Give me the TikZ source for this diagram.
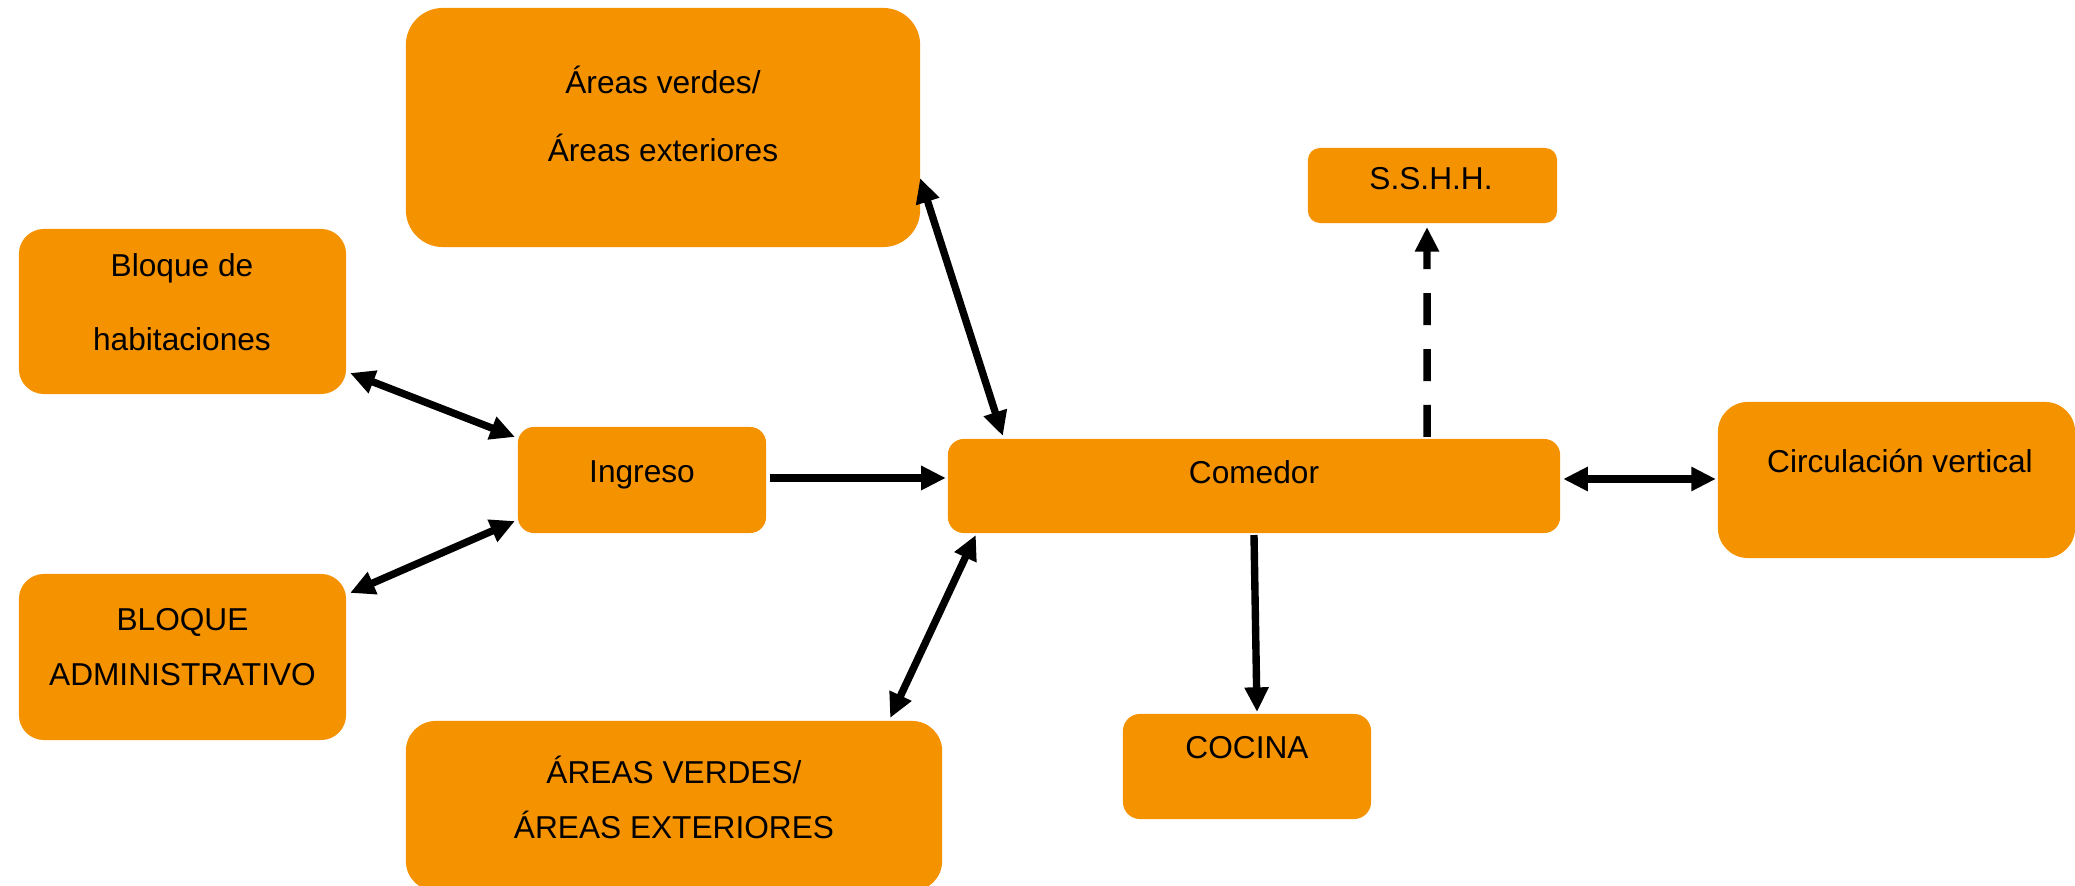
\documentclass[tikz,border=0pt]{standalone}
\usepackage{fontspec}
\setmainfont{Liberation Sans}
\usepackage{tikz}
\usetikzlibrary{arrows.meta}
\definecolor{naranja}{HTML}{F59200}

\begin{document}
\begin{tikzpicture}[x=0.01cm, y=-0.01cm,
        caja/.style={fill=naranja, rounded corners=#1, inner sep=0pt, outer sep=0pt},
        caja/.default=1.6mm,
        texto/.style={font=\fontsize{9}{11}\selectfont, align=center, inner sep=0pt},
        flecha/.style={line width=2.1pt, -{Triangle[length=7pt,width=6.5pt]}},
        doble/.style={line width=2.1pt, {Triangle[length=7pt,width=6.5pt]}-{Triangle[length=7pt,width=6.5pt]}}]
        \useasboundingbox (0,0) rectangle (2075,886);
        % cajas
        \node[caja=3.7mm, minimum width=5.14cm, minimum height=2.39cm] (verdes) at (663,127.5) {};
        \node[caja=1.2mm, minimum width=2.49cm, minimum height=0.75cm] (sshh) at (1432.5,185.5) {};
        \node[caja=2.5mm, minimum width=3.27cm, minimum height=1.65cm] (hab) at (182.5,311.5) {};
        \node[caja, minimum width=2.48cm, minimum height=1.06cm] (ing) at (642,480) {};
        \node[caja, minimum width=6.12cm, minimum height=0.94cm] (com) at (1254,486) {};
        \node[caja=3mm, minimum width=3.57cm, minimum height=1.56cm] (circ) at (1896.5,480) {};
        \node[caja=2.5mm, minimum width=3.27cm, minimum height=1.66cm] (adm) at (182.5,657) {};
        \node[caja=3mm, minimum width=5.36cm, minimum height=1.70cm] (verdesb) at (674,806) {};
        \node[caja=1.7mm, minimum width=2.48cm, minimum height=1.05cm] (coc) at (1247,766.5) {};
        % textos
        \node[texto, font=\fontsize{9}{19.35}\selectfont] (verdesT) at (663,114) {Áreas verdes/\\Áreas exteriores};
        \node[texto] (sshhT) at (1431,179) {S.S.H.H.};
        \node[texto, font=\fontsize{9}{21.05}\selectfont] (habT) at (182,302) {Bloque de\\habitaciones};
        \node[texto] (ingT) at (642,475) {Ingreso};
        \node[texto] (comT) at (1254,472) {Comedor};
        \node[texto] (circT) at (1900,461) {Circulación vertical};
        \node[texto, font=\fontsize{9}{15.65}\selectfont] (admT) at (182.5,647.5) {BLOQUE\\ADMINISTRATIVO};
        \node[texto, font=\fontsize{9}{15.65}\selectfont] (verdesbT) at (674,797) {ÁREAS VERDES/\\ÁREAS EXTERIORES};
        \node[texto] (cocT) at (1247,748) {COCINA};
        % flechas
        \draw[doble] ([shift={(4,-21)}]hab.south east) -- ([shift={(-3,10)}]ing.north west);
        \draw[doble] ([shift={(4,19)}]adm.north east) -- ([shift={(-3,-12)}]ing.south west);
        \draw[flecha] ([shift={(4,-2)}]ing.east) -- ([shift={(-2,-8)}]com.west);
        \draw[doble] ([shift={(0,-69)}]verdes.south east) -- ([shift={(55,-3)}]com.north west);
        \draw[flecha, dash pattern=on 9.1pt off 6.8pt] ([shift={(-133,-2)}]com.north east) -- ([shift={(-5.5,4)}]sshh.south);
        \draw[doble] ([shift={(3,-7)}]com.east) -- ([shift={(-2,-1)}]circ.west);
        \draw[flecha] ([shift={(0,2)}]com.south) -- ([shift={(10,-2)}]coc.north);
        \draw[doble] ([shift={(28,2)}]com.south west) -- ([shift={(-52,-3)}]verdesb.north east);
    \end{tikzpicture}
\end{document}
